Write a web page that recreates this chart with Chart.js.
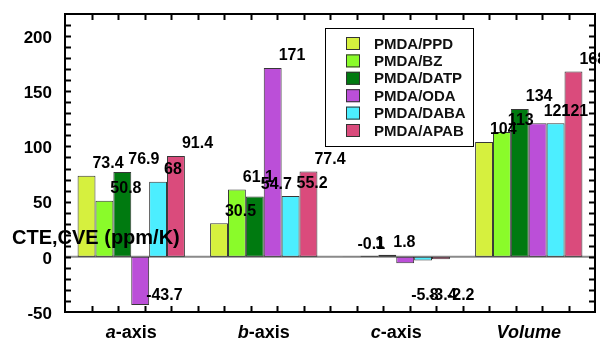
<!DOCTYPE html>
<html>
<head>
<meta charset="utf-8">
<script src="https://cdn.jsdelivr.net/npm/chart.js@4/dist/chart.umd.min.js"></script>
<style>
  html, body { margin: 0; padding: 0; background: #fff; }
  canvas { display: block; }
</style>
</head>
<body>
<canvas id="cte" width="600" height="343"></canvas>
<script>
// Thermal expansion of the PMDA-based polyimide films, per crystal axis and by volume
const categories = ['a-axis', 'b-axis', 'c-axis', 'Volume'];
const seriesNames = ['PMDA/PPD', 'PMDA/BZ', 'PMDA/DATP', 'PMDA/ODA', 'PMDA/DABA', 'PMDA/APAB'];
const ppd  = [73.4, 30.5, -0.1, 104];
const bz   = [50.8, 61.1, 1, 113];
const datp = [76.9, 54.7, 1.8, 134];
const oda  = [-43.7, 171, -5.8, 121];
const daba = [68, 55.2, -3.4, 121];
const apab = [91.4, 77.4, -2.2, 168];
const yTickValues = [-50, 0, 50, 100, 150, 200];
const yTitle = 'CTE,CVE (ppm/K)';

const seriesValues = [ppd, bz, datp, oda, daba, apab];
const colors = ['#d6f03e', '#8afb2a', '#007a10', '#bb4fd8', '#4ceeff', '#da4b7c'];
const FONT = "'Liberation Sans', Arial, sans-serif";

// Frame, inward ticks, axis labels, value labels and the boxed legend
const decorations = {
  id: 'decorations',
  beforeDatasetsDraw(chart) {
    const { ctx, chartArea: a, scales: { y } } = chart;
    const y0 = y.getPixelForValue(0);
    ctx.save();
    ctx.strokeStyle = '#8a8a8a';
    ctx.lineWidth = 2;
    ctx.beginPath();
    ctx.moveTo(a.left, y0);
    ctx.lineTo(a.right, y0);
    ctx.stroke();
    ctx.restore();
  },
  afterDatasetsDraw(chart) {
    const { ctx, chartArea: a, scales: { x, y } } = chart;
    ctx.save();

    // value labels, left-aligned at each bar's right edge
    ctx.fillStyle = '#000';
    ctx.font = 'bold 16px ' + FONT;
    ctx.textAlign = 'left';
    ctx.textBaseline = 'middle';
    const belowRow = y.getPixelForValue(-35);
    chart.data.datasets.forEach((ds, di) => {
      chart.getDatasetMeta(di).data.forEach((bar, i) => {
        const v = ds.data[i];
        const right = bar.x + bar.width / 2 - 3;
        let ty;
        if (v <= -1) {
          ty = Math.max(bar.y - 9, belowRow);
        } else {
          ty = y.getPixelForValue(Math.max(v, 0)) - 12;
        }
        ctx.fillText(String(v), right, ty);
      });
    });

    // frame
    ctx.strokeStyle = '#000';
    ctx.lineWidth = 2;
    ctx.strokeRect(a.left, a.top, a.right - a.left, a.bottom - a.top);

    // inward ticks on the left and right every 10 units
    ctx.lineWidth = 2;
    ctx.beginPath();
    for (let v = -40; v < 220; v += 10) {
      const py = Math.round(y.getPixelForValue(v)) + 0.5;
      ctx.moveTo(a.left, py); ctx.lineTo(a.left + 6, py);
      ctx.moveTo(a.right, py); ctx.lineTo(a.right - 6, py);
    }
    // inward ticks along the top and bottom, five per category
    const step = (a.right - a.left) / (categories.length * 5);
    for (let k = 1; k < categories.length * 5; k++) {
      const px = Math.round(a.left + k * step) + 0.5;
      ctx.moveTo(px, a.bottom); ctx.lineTo(px, a.bottom - 6);
      ctx.moveTo(px, a.top); ctx.lineTo(px, a.top + 6);
    }
    ctx.stroke();

    // y tick labels
    ctx.fillStyle = '#000';
    ctx.font = 'bold 17px ' + FONT;
    ctx.textAlign = 'right';
    ctx.textBaseline = 'middle';
    yTickValues.forEach(v => ctx.fillText(String(v), 52, y.getPixelForValue(v) + 2));

    // category labels; the axis letter and "Volume" are italic
    ctx.textAlign = 'left';
    categories.forEach((c, i) => {
      const cx = x.getPixelForValue(i);
      const parts = c === 'Volume'
        ? [[c, 'italic bold']]
        : [[c.charAt(0), 'italic bold'], [c.slice(1), 'bold']];
      let total = 0;
      parts.forEach(p => { ctx.font = p[1] + ' 18px ' + FONT; total += ctx.measureText(p[0]).width; });
      let px = cx - total / 2;
      parts.forEach(p => {
        ctx.font = p[1] + ' 18px ' + FONT;
        ctx.fillText(p[0], px, 333);
        px += ctx.measureText(p[0]).width;
      });
    });

    // y title, written across the plot
    ctx.font = 'bold 20px ' + FONT;
    ctx.fillText(yTitle, 12, 238);

    // legend box
    const lx = 325, ly = 28, lw = 148, lh = 118;
    ctx.fillStyle = '#fff';
    ctx.fillRect(lx, ly, lw, lh);
    ctx.lineWidth = 1;
    ctx.strokeStyle = '#000';
    ctx.strokeRect(lx + 0.5, ly + 0.5, lw, lh);
    ctx.font = 'bold 15px ' + FONT;
    chart.data.datasets.forEach((ds, di) => {
      const cy = 43.5 + di * 17.4;
      ctx.fillStyle = ds.backgroundColor;
      ctx.fillRect(346, cy - 6.5, 14, 13);
      ctx.strokeStyle = '#333';
      ctx.strokeRect(346.5, cy - 6, 13, 12);
      ctx.fillStyle = '#111';
      ctx.fillText(ds.label, 374, cy + 1);
    });

    ctx.restore();
  }
};

new Chart(document.getElementById('cte'), {
  type: 'bar',
  data: {
    labels: categories,
    datasets: seriesNames.map((name, i) => ({
      label: name,
      data: seriesValues[i],
      backgroundColor: colors[i],
      borderColor: 'rgba(20,20,20,0.85)',
      borderWidth: 1,
      borderSkipped: false,
      categoryPercentage: 0.81,
      barPercentage: 1.0
    }))
  },
  options: {
    responsive: false,
    animation: false,
    layout: { padding: { left: 65, top: 14, right: 5, bottom: 31 } },
    plugins: { legend: { display: false }, tooltip: { enabled: false } },
    scales: {
      x: { display: false, offset: true },
      y: { display: false, min: -50, max: 220 }
    }
  },
  plugins: [decorations]
});
</script>
</body>
</html>
